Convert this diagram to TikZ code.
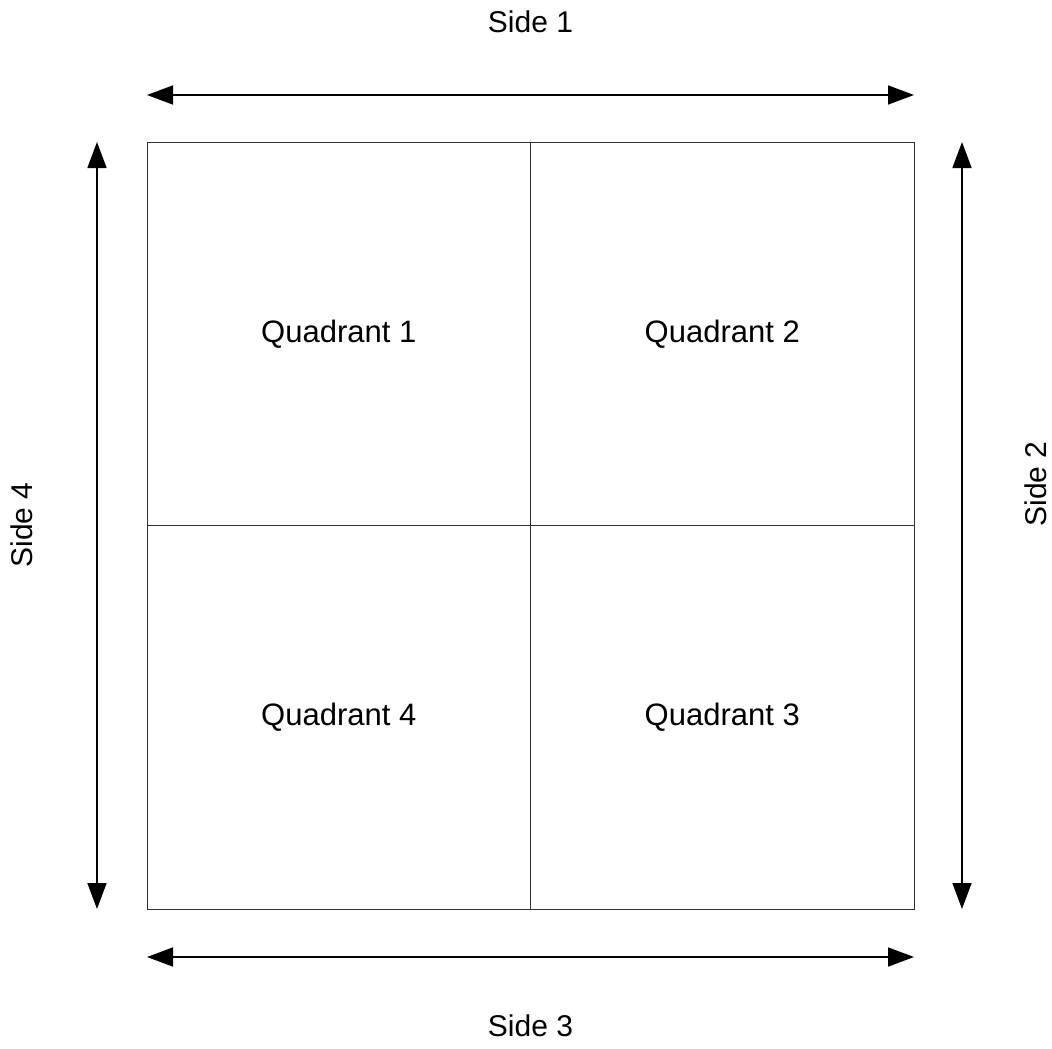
\documentclass[tikz,border=0pt]{standalone}
\usepackage{fontspec}
\setmainfont{Liberation Sans}
\usetikzlibrary{arrows.meta}
\begin{document}
\begin{tikzpicture}[x=1pt,y=-1pt,
  cell/.style={draw=black!80,line width=1pt,minimum width=383.5pt,minimum height=383.5pt,inner sep=0pt,
    font=\fontsize{31}{36}\selectfont},
  dim/.style={line width=1.6pt,{Triangle[length=26pt,width=19pt]}-{Triangle[length=26pt,width=19pt]}},
  lbl/.style={font=\fontsize{30}{35}\selectfont}]
  \useasboundingbox (0,0) rectangle (1052,1049);
  % grid of four quadrants
  \node[cell] (q1) at (338.75,333.75) {Quadrant 1};
  \node[cell] (q2) at (722.25,333.75) {Quadrant 2};
  \node[cell] (q4) at (338.75,717.25) {Quadrant 4};
  \node[cell] (q3) at (722.25,717.25) {Quadrant 3};
  % dimension arrow ends
  \coordinate (t1) at (147,95);  \coordinate (t2) at (914,95);
  \coordinate (b1) at (147,957); \coordinate (b2) at (914,957);
  \coordinate (l1) at (97,142);  \coordinate (l2) at (97,909);
  \coordinate (r1) at (962,142); \coordinate (r2) at (962,909);
  \draw[dim] (t1) -- (t2);
  \draw[dim] (b1) -- (b2);
  \draw[dim] (l1) -- (l2);
  \draw[dim] (r1) -- (r2);
  % side labels
  \node[lbl] (s1) at (530.5,22) {Side 1};
  \node[lbl] (s3) at (530.5,1026) {Side 3};
  \node[lbl,rotate=90] (s4) at (22,525) {Side 4};
  \node[lbl,rotate=90] (s2) at (1036,484) {Side 2};
\end{tikzpicture}
\end{document}
